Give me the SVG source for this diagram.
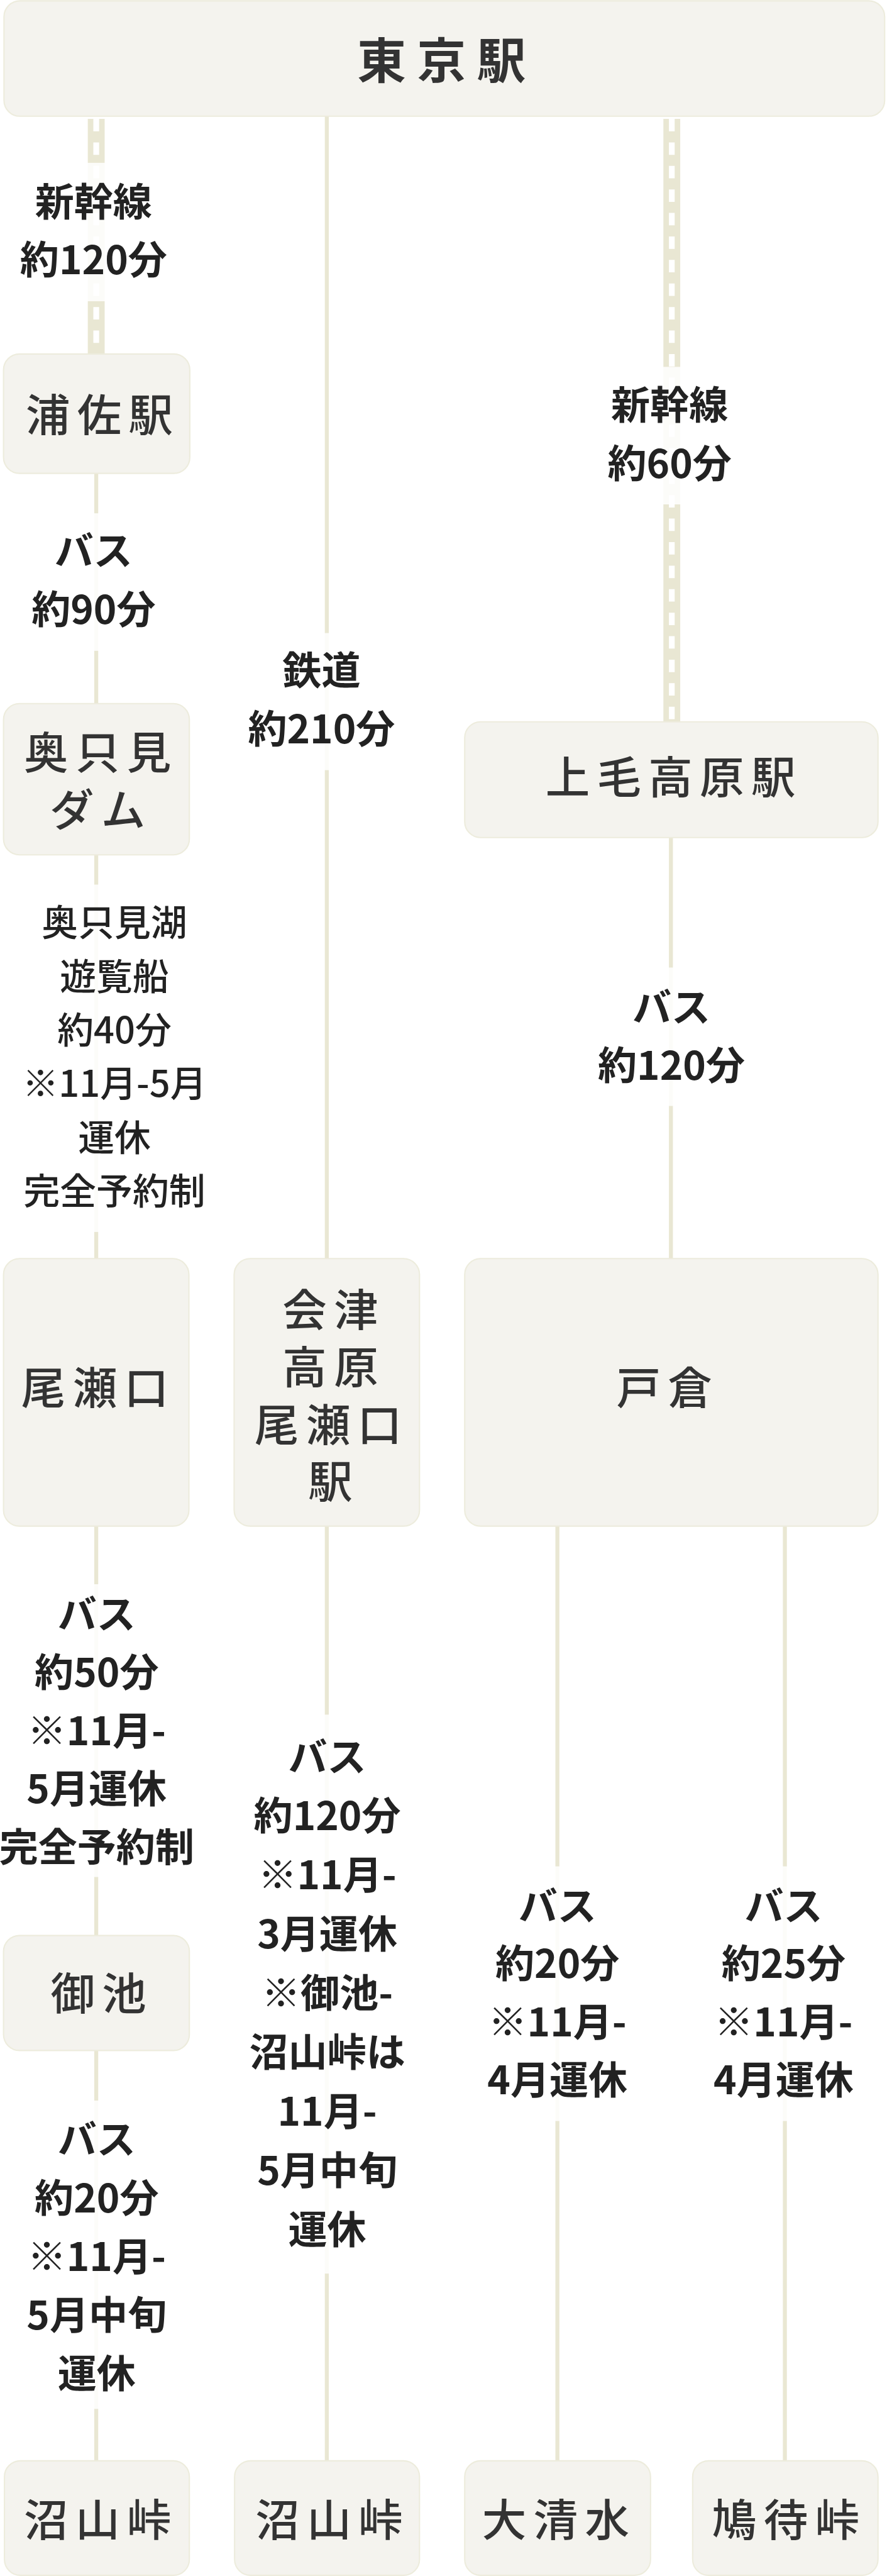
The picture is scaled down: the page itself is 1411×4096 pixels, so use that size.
<svg xmlns="http://www.w3.org/2000/svg" width="1411" height="4096" viewBox="0 0 1411 4096">
<style>
.box{fill:#f4f3ee;stroke:#edecdd;stroke-width:3}
.ln{stroke:#e9e7d3;stroke-width:9;fill:none}
.sk{stroke:#e9e7d3;stroke-width:38;fill:none}
.skd{stroke:#ffffff;stroke-width:13;stroke-dasharray:28 25;fill:none}
.lb{fill:#ffffff;fill-opacity:0.86}
.nt{font-family:"Noto Sans CJK JP","Noto Sans",sans-serif;font-size:100px;font-weight:500;fill:#333333;letter-spacing:16px;text-anchor:middle}
.lt{font-family:"Noto Sans CJK JP","Noto Sans",sans-serif;font-size:88px;font-weight:700;fill:#222222;text-anchor:middle}
.lt2{font-family:"Noto Sans CJK JP","Noto Sans",sans-serif;font-size:82px;font-weight:500;fill:#222222;text-anchor:middle}
</style>
<rect width="1411" height="4096" fill="#ffffff"/>
<g transform="scale(0.7054)">
<g id="connectors">
<line class="sk" x1="217" y1="268" x2="217" y2="800"/>
<line class="skd" x1="217" y1="268" x2="217" y2="800"/>
<line class="sk" x1="1515" y1="268" x2="1515" y2="1630"/>
<line class="skd" x1="1515" y1="268" x2="1515" y2="1630"/>
<line class="ln" x1="217" y1="1065" x2="217" y2="1588"/>
<line class="ln" x1="217" y1="1925" x2="217" y2="2839"/>
<line class="ln" x1="217" y1="3438" x2="217" y2="4365"/>
<line class="ln" x1="217" y1="4620" x2="217" y2="5549"/>
<line class="ln" x1="737" y1="262" x2="737" y2="2839"/>
<line class="ln" x1="737" y1="3438" x2="737" y2="5549"/>
<line class="ln" x1="1513" y1="1886" x2="1513" y2="2839"/>
<line class="ln" x1="1257" y1="3438" x2="1257" y2="5549"/>
<line class="ln" x1="1770" y1="3438" x2="1770" y2="5549"/>
<g id="label-1">
<rect class="lb" x="17" y="367" width="401" height="312"/>
<text class="lt"><tspan x="211" y="487">新幹線</tspan><tspan x="211" y="618">約120分</tspan></text>
</g>
<g id="label-2">
<rect class="lb" x="17" y="1157" width="401" height="310"/>
<text class="lt"><tspan x="211" y="1275">バス</tspan><tspan x="211" y="1407">約90分</tspan></text>
</g>
<g id="label-3">
<rect class="lb" x="532" y="1427" width="410" height="309"/>
<text class="lt"><tspan x="725" y="1544">鉄道</tspan><tspan x="725" y="1676">約210分</tspan></text>
</g>
<g id="label-4">
<rect class="lb" x="15" y="1994" width="490" height="783"/>
<text class="lt2"><tspan x="258" y="2110">奥只見湖</tspan><tspan x="258" y="2231">遊覧船</tspan><tspan x="258" y="2352">約40分</tspan><tspan x="258" y="2473">※11月-5月</tspan><tspan x="258" y="2594">運休</tspan><tspan x="258" y="2715">完全予約制</tspan></text>
</g>
<g id="label-5">
<rect class="lb" x="1300" y="827" width="430" height="310"/>
<text class="lt"><tspan x="1510" y="946">新幹線</tspan><tspan x="1510" y="1078">約60分</tspan></text>
</g>
<g id="label-6">
<rect class="lb" x="1300" y="2181" width="430" height="312"/>
<text class="lt"><tspan x="1514" y="2303">バス</tspan><tspan x="1514" y="2434">約120分</tspan></text>
</g>
<g id="label-7">
<rect class="lb" x="8" y="3571" width="420" height="660"/>
<text class="lt"><tspan x="218" y="3671">バス</tspan><tspan x="218" y="3802">約50分</tspan><tspan x="218" y="3934">※11月-</tspan><tspan x="218" y="4064">5月運休</tspan><tspan x="218" y="4196">完全予約制</tspan></text>
</g>
<g id="label-8">
<rect class="lb" x="532" y="3865" width="410" height="1260"/>
<text class="lt"><tspan x="738" y="3993">バス</tspan><tspan x="738" y="4126">約120分</tspan><tspan x="738" y="4259">※11月-</tspan><tspan x="738" y="4392">3月運休</tspan><tspan x="738" y="4525">※御池-</tspan><tspan x="738" y="4658">沼山峠は</tspan><tspan x="738" y="4791">11月-</tspan><tspan x="738" y="4925">5月中旬</tspan><tspan x="738" y="5058">運休</tspan></text>
</g>
<g id="label-9">
<rect class="lb" x="1060" y="4207" width="395" height="574"/>
<text class="lt"><tspan x="1257" y="4329">バス</tspan><tspan x="1257" y="4459">約20分</tspan><tspan x="1257" y="4590">※11月-</tspan><tspan x="1257" y="4721">4月運休</tspan></text>
</g>
<g id="label-10">
<rect class="lb" x="1570" y="4207" width="395" height="574"/>
<text class="lt"><tspan x="1767" y="4329">バス</tspan><tspan x="1767" y="4459">約25分</tspan><tspan x="1767" y="4590">※11月-</tspan><tspan x="1767" y="4721">4月運休</tspan></text>
</g>
<g id="label-11">
<rect class="lb" x="8" y="4735" width="420" height="695"/>
<text class="lt"><tspan x="218" y="4855">バス</tspan><tspan x="218" y="4987">約20分</tspan><tspan x="218" y="5119">※11月-</tspan><tspan x="218" y="5251">5月中旬</tspan><tspan x="218" y="5383">運休</tspan></text>
</g>
</g>
<g id="node-tokyo">
<rect class="box" x="9" y="2" width="1986" height="260" rx="36"/>
<text class="nt" x="1008" y="177" style="font-size:110px;font-weight:700;letter-spacing:25px">東京駅</text>
</g>
<g id="node-urasa">
<rect class="box" x="8" y="798" width="420" height="269" rx="36"/>
<text class="nt" x="232" y="973">浦佐駅</text>
</g>
<g id="node-okutadami">
<rect class="box" x="8" y="1586" width="419" height="341" rx="36"/>
<text class="nt"><tspan x="228" y="1734">奥只見</tspan><tspan x="228" y="1863">ダム</tspan></text>
</g>
<g id="node-jomokogen">
<rect class="box" x="1048" y="1627" width="932" height="261" rx="36"/>
<text class="nt" x="1520" y="1789">上毛高原駅</text>
</g>
<g id="node-oze">
<rect class="box" x="8" y="2837" width="418" height="603" rx="36"/>
<text class="nt" x="222" y="3165">尾瀬口</text>
</g>
<g id="node-aizu">
<rect class="box" x="528" y="2837" width="418" height="603" rx="36"/>
<text class="nt"><tspan x="753" y="2990">会津</tspan><tspan x="753" y="3119">高原</tspan><tspan x="748" y="3249">尾瀬口</tspan><tspan x="753" y="3377">駅</tspan></text>
</g>
<g id="node-tokura">
<rect class="box" x="1048" y="2837" width="932" height="603" rx="36"/>
<text class="nt" x="1506" y="3165">戸倉</text>
</g>
<g id="node-miike">
<rect class="box" x="8" y="4363" width="419" height="259" rx="36"/>
<text class="nt" x="230" y="4531">御池</text>
</g>
<g id="node-numayama-1">
<rect class="box" x="10" y="5547" width="417" height="258" rx="36"/>
<text class="nt" x="228" y="5717">沼山峠</text>
</g>
<g id="node-numayama-2">
<rect class="box" x="529" y="5547" width="417" height="258" rx="36"/>
<text class="nt" x="750" y="5717">沼山峠</text>
</g>
<g id="node-oshimizu">
<rect class="box" x="1048" y="5547" width="419" height="258" rx="36"/>
<text class="nt" x="1261" y="5717">大清水</text>
</g>
<g id="node-hatomachi">
<rect class="box" x="1562" y="5547" width="418" height="258" rx="36"/>
<text class="nt" x="1780" y="5717">鳩待峠</text>
</g>
</g>
</svg>
